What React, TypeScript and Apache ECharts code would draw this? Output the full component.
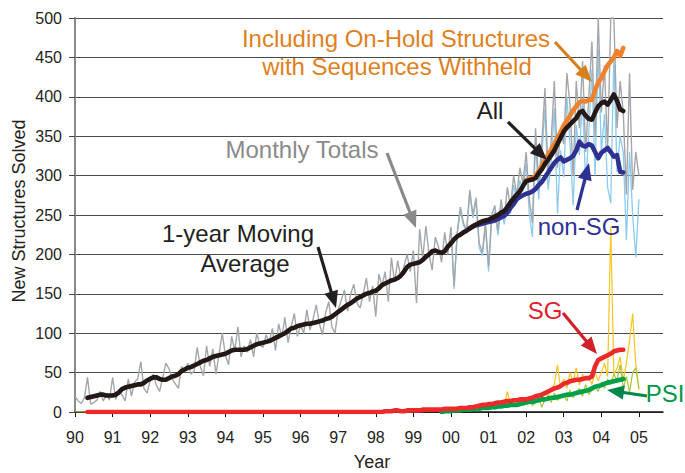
import React, { useEffect, useRef } from "react";
import * as echarts from "echarts";

// ---------- DATA (years as decimal, values = new structures solved) ----------
const MONTHLY_TOTALS_START = 1990;
const monthlyTotals = [
  20, 14, 11, 18, 44, 10, 12, 15, 26, 14, 22, 15, // 1990
  44, 16, 26, 22, 14, 42, 20, 38, 42, 64, 30, 24, // 1991
  40, 48, 34, 26, 44, 62, 55, 42, 36, 30, 58, 52, // 1992
  62, 48, 52, 82, 58, 46, 84, 58, 80, 48, 74, 100, // 1993
  72, 60, 96, 78, 108, 70, 84, 76, 92, 70, 100, 85, // 1994
  82, 98, 88, 106, 78, 112, 95, 120, 88, 108, 125, 96, // 1995
  110, 100, 130, 104, 118, 136, 112, 98, 126, 140, 108, 100, // 1996
  130, 142, 155, 128, 150, 162, 138, 132, 150, 170, 140, 160, // 1997
  121, 175, 160, 178, 140, 196, 165, 192, 170, 185, 200, 178, // 1998
  205, 138, 232, 195, 236, 200, 180, 222, 210, 190, 228, 200, // 1999
  235, 160, 228, 260, 240, 230, 282, 250, 272, 215, 202, 240, // 2000
  185, 250, 262, 230, 270, 245, 285, 260, 300, 275, 310, 290, // 2001
  330, 270, 240, 360, 290, 340, 411, 300, 345, 420, 310, 360, // 2002
  340, 430, 390, 300, 420, 360, 445, 330, 400, 470, 350, 500, // 2003
  380, 440, 330, 500, 500, 360, 420, 380, 276, 430, 282, 330, // 2004
  300, // 2005
];

const MONTHLY_NONSG_START = 2000;
const monthlyNonSG = [
  233, 156, 226, 256, 237, 228, 278, 246, 268, 209, 198, 235, // 2000
  178, 244, 254, 224, 260, 238, 262, 252, 288, 268, 294, 280, // 2001
  316, 252, 222, 344, 270, 326, 385, 282, 318, 385, 252, 332, // 2002
  298, 400, 340, 262, 364, 326, 397, 290, 355, 435, 300, 460, // 2003
  330, 378, 285, 265, 452, 305, 350, 330, 218, 330, 250, 196, // 2004
  270, // 2005
];

const MONTHLY_SG_LEADIN = 1990;
const MONTHLY_SG_START = 1998;
const monthlySG = [
  0, 0, 1, 0, 2, 0, 1, 3, 0, 2, 1, 0, // 1998
  2, 1, 3, 0, 4, 2, 1, 5, 3, 2, 4, 3, // 1999
  3, 5, 2, 6, 4, 3, 7, 5, 4, 8, 6, 5, // 2000
  8, 6, 10, 7, 12, 9, 26, 10, 14, 8, 18, 12, // 2001
  14, 20, 12, 18, 22, 16, 26, 20, 28, 35, 60, 30, // 2002
  42, 30, 50, 38, 56, 34, 48, 40, 45, 35, 50, 40, // 2003
  50, 62, 45, 235, 48, 55, 70, 40, 62, 90, 125, 60, // 2004
  28, // 2005
];

const MONTHLY_PSI_START = 2000;
const monthlyPSI = [
  0, 2, 1, 3, 2, 4, 1, 5, 3, 4, 6, 5, // 2000
  5, 8, 4, 10, 6, 9, 12, 7, 10, 8, 14, 9, // 2001
  10, 15, 8, 12, 18, 6, 16, 20, 12, 24, 15, 18, // 2002
  22, 14, 28, 18, 25, 30, 20, 35, 22, 28, 32, 26, // 2003
  38, 30, 42, 35, 48, 40, 60, 30, 45, 25, 50, 56, // 2004
  30, // 2005
];

const AVG_ALL_START = 1990 + 4 / 12;
const avgAll = [
  18, 19, 20, 21, 22, 22, 21, 21, // 1990 May-Dec
  21, 22, 25, 29, 31, 32, 33, 34, 35, 35, 37, 40, // 1991
  42, 44, 44, 42, 41, 41, 43, 45, 46, 48, 52, 54, // 1992
  56, 57, 59, 61, 63, 65, 66, 68, 70, 71, 72, 73, // 1993
  74, 76, 78, 79, 79, 79, 79, 80, 82, 84, 86, 87, // 1994
  88, 89, 90, 92, 94, 96, 98, 100, 103, 106, 107, 109, // 1995
  110, 111, 112, 112, 113, 114, 115, 116, 118, 119, 121, 124, // 1996
  127, 130, 133, 136, 138, 141, 144, 146, 148, 150, 151, 153, // 1997
  154, 157, 161, 163, 165, 167, 168, 170, 173, 178, 184, 187, // 1998
  188, 189, 190, 193, 197, 200, 204, 205, 203, 202, 204, 210, // 1999
  214, 219, 223, 225, 228, 230, 233, 236, 238, 240, 242, 243, // 2000
  244, 246, 248, 250, 253, 255, 260, 266, 271, 276, 280, 287, // 2001
  293, 294, 295, 297, 303, 308, 315, 320, 326, 332, 340, 348, // 2002
  356, 361, 365, 369, 373, 380, 382, 376, 372, 371, 380, 388, // 2003
  392, 394, 390, 396, 403, 395, 384, 382, // 2004 Jan-Aug
];

const AVG_ONHOLD_START = 2002;
const avgOnHold = [
  294, 296, 297, 299, 306, 312, 320, 326, 333, 340, 348, 355, // 2002
  364, 370, 376, 383, 388, 393, 395, 394, 396, 396, 409, 418, // 2003
  424, 432, 440, 445, 450, 458, 452, 462, // 2004
];

const AVG_NONSG_START = 2000.5;
const avgNonSG = [
  233, 235, 237, 238, 239, 240, // 2000 Jul-Dec
  241, 242, 243, 245, 247, 249, 253, 259, 264, 270, 273, 275, // 2001
  277, 278, 280, 283, 288, 292, 298, 304, 310, 316, 320, 323, // 2002
  318, 320, 322, 325, 332, 343, 338, 337, 340, 338, 330, 322, // 2003
  329, 332, 335, 330, 324, 326, 305, 304, // 2004
];

const AVG_SG_LEADIN = 1990 + 4 / 12;
const AVG_SG_START = 1998;
const avgSG = [
  0, 0, 0, 1, 1, 1, 2, 2, 1, 1, 2, 2, // 1998
  2, 2, 2, 3, 3, 3, 3, 3, 3, 3, 4, 4, // 1999
  4, 4, 4, 5, 5, 5, 6, 6, 7, 8, 9, 9, // 2000
  10, 10, 11, 12, 12, 13, 14, 14, 15, 15, 16, 16, // 2001
  16, 17, 18, 20, 21, 22, 24, 26, 28, 30, 31, 33, // 2002
  36, 37, 39, 40, 41, 41, 42, 43, 43, 45, 58, 66, // 2003
  68, 70, 72, 74, 77, 78, 79, 79, // 2004
];

const AVG_PSI_START = 1999.75;
const avgPSI = [
  0, 1, 1, // 1999 Oct-Dec
  1, 2, 2, 2, 3, 3, 3, 4, 4, 4, 5, 5, // 2000
  5, 6, 6, 7, 7, 8, 8, 9, 9, 9, 10, 11, // 2001
  12, 13, 13, 14, 15, 16, 16, 17, 18, 18, 19, 20, // 2002
  21, 22, 22, 23, 24, 25, 26, 27, 28, 30, 32, 33, // 2003
  34, 36, 37, 38, 39, 40, 41, 42, // 2004
];

const X_MIN = 1990;
const X_MAX = 2005.64;
const Y_MIN = 0;
const Y_MAX = 500;
const Y_STEP = 50;

// ---------- helpers ----------
const monthly = (start: number, arr: number[]) =>
  arr.map((v, i) => [start + i / 12, v]);

const FONT = '"Liberation Sans", Arial, Helvetica, sans-serif';

function arrow(x1: number, y1: number, x2: number, y2: number, color: string) {
  const len = Math.hypot(x2 - x1, y2 - y1);
  const ux = (x2 - x1) / len;
  const uy = (y2 - y1) / len;
  const headLen = 17;
  const headW = 7;
  const bx = x2 - ux * headLen;
  const by = y2 - uy * headLen;
  const px = -uy;
  const py = ux;
  return [
    {
      type: "line",
      silent: true,
      shape: { x1, y1, x2: bx + ux * 2, y2: by + uy * 2 },
      style: { stroke: color, lineWidth: 3.2 },
      z: 100,
    },
    {
      type: "polygon",
      silent: true,
      shape: {
        points: [
          [x2, y2],
          [bx + px * headW, by + py * headW],
          [bx - px * headW, by - py * headW],
        ],
      },
      style: { fill: color },
      z: 100,
    },
  ];
}

function label(text: string, x: number, y: number, color: string, size = 24, rotation = 0) {
  return {
    type: "text",
    silent: true,
    x,
    y,
    rotation,
    z: 101,
    style: {
      text,
      fill: color,
      font: `${size}px ${FONT}`,
      fontFamily: FONT,
      fontSize: size,
      align: "center",
      verticalAlign: "middle",
    },
  };
}

function thin(name: string, data: number[][], color: string, width = 1.2) {
  return {
    name,
    type: "line",
    data,
    showSymbol: false,
    symbol: "none",
    lineStyle: { color, width },
    itemStyle: { color },
    silent: true,
  };
}

function thick(name: string, data: number[][], color: string) {
  return {
    name,
    type: "line",
    data,
    showSymbol: false,
    symbol: "none",
    lineStyle: { color, width: 4.6, join: "round", cap: "round" },
    itemStyle: { color },
    silent: true,
  };
}

export default function App() {
  const ref = useRef<HTMLDivElement>(null);

  useEffect(() => {
    document.body.style.margin = "0";
    if (!ref.current) return;
    const chart = echarts.init(ref.current, undefined, { renderer: "svg" });

    const sgMonthlyData = [[MONTHLY_SG_LEADIN, 0], ...monthly(MONTHLY_SG_START, monthlySG)];
    const sgAvgData = [[AVG_SG_LEADIN, 0], ...monthly(AVG_SG_START, avgSG)];

    chart.setOption({
      animation: false,
      backgroundColor: "#ffffff",
      textStyle: { fontFamily: FONT },
      grid: { left: 75, right: 22, top: 18, bottom: 61, containLabel: false },
      xAxis: {
        type: "value",
        min: X_MIN,
        max: X_MAX,
        interval: 1,
        axisLine: { show: true, lineStyle: { color: "#111", width: 1.5 } },
        axisTick: { show: true, inside: false, length: 5, lineStyle: { color: "#111", width: 1 } },
        axisLabel: {
          margin: 17,
          fontSize: 16,
          color: "#231F20",
          fontFamily: FONT,
          showMaxLabel: false,
          formatter: (v: number) => {
            if (Math.abs(v - Math.round(v)) > 1e-6) return "";
            return String(Math.round(v) % 100).padStart(2, "0");
          },
        },
        splitLine: { show: false },
      },
      yAxis: {
        type: "value",
        min: Y_MIN,
        max: Y_MAX,
        interval: Y_STEP,
        axisLine: { show: true, lineStyle: { color: "#8a8a8a", width: 2 } },
        axisTick: { show: true, inside: false, length: 6, lineStyle: { color: "#444", width: 1 } },
        axisLabel: { margin: 13, fontSize: 16, color: "#231F20", fontFamily: FONT },
        splitLine: { show: true, lineStyle: { color: "#4a4a4a", width: 1 } },
      },
      series: [
        thin("Monthly non-SG", monthly(MONTHLY_NONSG_START, monthlyNonSG), "#8CCAF0", 1.3),
        thin("Monthly Totals", monthly(MONTHLY_TOTALS_START, monthlyTotals), "#A3A7AB", 1.4),
        thin("Monthly SG", sgMonthlyData, "#F7C51E", 1.2),
        thin("Monthly PSI", monthly(MONTHLY_PSI_START, monthlyPSI), "#A9C63A", 1.2),
        thick("Including On-Hold Structures with Sequences Withheld", monthly(AVG_ONHOLD_START, avgOnHold), "#F0822D"),
        thick("non-SG", monthly(AVG_NONSG_START, avgNonSG), "#2E3192"),
        thick("All", monthly(AVG_ALL_START, avgAll), "#231815"),
        thick("PSI", monthly(AVG_PSI_START, avgPSI), "#00A04B"),
        thick("SG", sgAvgData, "#EC2A2A"),
      ],
      graphic: [
        label("New Structures Solved", 18.5, 211, "#231F20", 18, Math.PI / 2),
        label("Year", 372, 462, "#231F20", 18),
        label("Including On-Hold Structures", 396, 38, "#DF7F1E"),
        label("with Sequences Withheld", 397, 66, "#DF7F1E"),
        ...arrow(555, 42, 592, 82, "#D9801E"),
        label("All", 490, 110, "#231F20"),
        ...arrow(508, 122, 547, 160, "#231F20"),
        label("Monthly Totals", 302, 149, "#8A8A8A"),
        ...arrow(387, 153, 416, 228, "#8A8A8A"),
        label("1-year Moving", 238, 233, "#231F20"),
        label("Average", 245, 263, "#231F20"),
        ...arrow(318, 247, 336, 308, "#231F20"),
        label("non-SG", 579, 226, "#2E3192"),
        ...arrow(577, 210, 589, 163, "#2E3192"),
        label("SG", 545, 310, "#E0202A"),
        ...arrow(563, 313, 597, 354, "#D0202A"),
        label("PSI", 665, 393, "#00964A"),
        ...arrow(647, 396, 607, 390, "#00874A"),
      ],
    });

    return () => chart.dispose();
  }, []);

  return (
    <div
      ref={ref}
      style={{ position: "absolute", left: 0, top: 0, width: 685, height: 473, background: "#fff" }}
    />
  );
}
